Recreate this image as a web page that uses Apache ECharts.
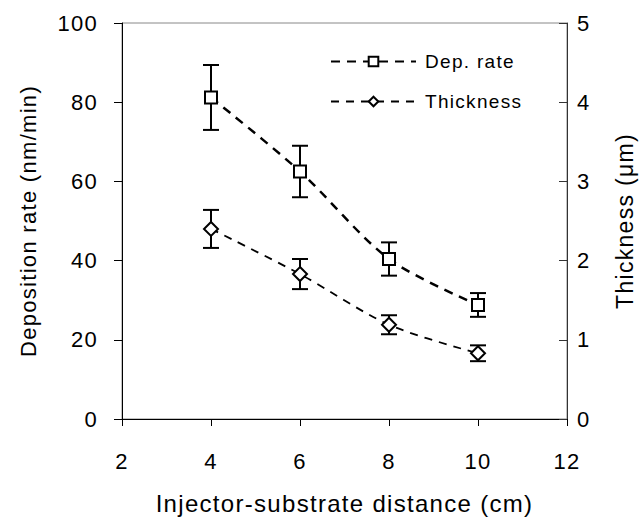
<!DOCTYPE html>
<html>
<head>
<meta charset="utf-8">
<script src="https://cdn.jsdelivr.net/npm/echarts@6/dist/echarts.min.js"></script>
<style>
html,body{margin:0;padding:0;background:#fff;overflow:hidden;}
#c{width:642px;height:528px;}
#c text{letter-spacing:1.3px;}
</style>
</head>
<body>
<div id="c"></div>
<script>
const distances = [4, 6, 8, 10];
const depRate = [81.2, 62.5, 40.4, 28.8];
const depRateErr = [8.2, 6.5, 4.2, 3.0];
const thickness = [2.40, 1.83, 1.19, 0.83];
const thicknessErr = [0.24, 0.19, 0.12, 0.10];
const xTicks = [2, 4, 6, 8, 10, 12];
const yLeftTicks = [0, 20, 40, 60, 80, 100];
const yRightTicks = [0, 1, 2, 3, 4, 5];

const FONT = 'Liberation Sans, Arial, sans-serif';
const chart = echarts.init(document.getElementById('c'), null, {renderer: 'svg'});

function errSeries(vals, errs, yIdx) {
  return {
    type: 'custom',
    yAxisIndex: yIdx,
    z: 1,
    silent: true,
    data: distances.map((d, i) => [d, vals[i] - errs[i], vals[i] + errs[i]]),
    renderItem: function (params, api) {
      const lo = api.coord([api.value(0), api.value(1)]);
      const hi = api.coord([api.value(0), api.value(2)]);
      const w = 8;
      const st = {stroke: '#000', lineWidth: 2};
      return {
        type: 'group',
        children: [
          {type: 'line', shape: {x1: lo[0], y1: lo[1], x2: hi[0], y2: hi[1]}, style: st},
          {type: 'line', shape: {x1: lo[0] - w, y1: lo[1], x2: lo[0] + w, y2: lo[1]}, style: st},
          {type: 'line', shape: {x1: hi[0] - w, y1: hi[1], x2: hi[0] + w, y2: hi[1]}, style: st}
        ]
      };
    }
  };
}

const option = {
  backgroundColor: '#fff',
  animation: false,
  textStyle: {fontFamily: FONT},
  grid: {left: 122, right: 75, top: 23, bottom: 109, outerBoundsMode: 'none', containLabel: false,
    show: true, borderColor: '#888', borderWidth: 1, backgroundColor: 'transparent'},
  legend: {
    orient: 'vertical',
    left: 330,
    top: 52,
    padding: 0,
    itemWidth: 85,
    itemHeight: 12,
    itemGap: 21,
    textStyle: {fontFamily: FONT, fontSize: 19, color: '#000', padding: [0, 0, 0, 4]},
    data: ['Dep. rate', 'Thickness']
  },
  xAxis: {
    type: 'value', min: 2, max: 12, interval: 2,
    name: 'Injector-substrate distance (cm)',
    nameLocation: 'middle', nameGap: 72,
    nameTextStyle: {fontFamily: FONT, fontSize: 24, color: '#000'},
    axisLine: {lineStyle: {color: '#000', width: 1}},
    axisTick: {show: true, length: 7, lineStyle: {color: '#000'}},
    axisLabel: {margin: 31, fontFamily: FONT, fontSize: 22, color: '#000',
      formatter: v => xTicks.includes(v) ? String(v) : ''},
    splitLine: {show: false}
  },
  yAxis: [
    {
      type: 'value', min: 0, max: 100, interval: 20, position: 'left',
      name: 'Deposition rate (nm/min)', nameLocation: 'middle', nameGap: 83, nameRotate: 90,
      nameTextStyle: {fontFamily: FONT, fontSize: 22, color: '#000'},
      axisLine: {show: true, lineStyle: {color: '#000', width: 1}},
      axisTick: {show: true, length: 8, lineStyle: {color: '#000'}},
      axisLabel: {margin: 24, fontFamily: FONT, fontSize: 22, color: '#000',
        formatter: v => yLeftTicks.includes(v) ? String(v) : ''},
      splitLine: {show: false}
    },
    {
      type: 'value', min: 0, max: 5, interval: 1, position: 'right',
      name: 'Thickness (\u03bcm)', nameLocation: 'middle', nameGap: 46, nameRotate: 90,
      nameTextStyle: {fontFamily: FONT, fontSize: 23, color: '#000'},
      axisLine: {show: true, lineStyle: {color: '#333', width: 1}},
      axisTick: {show: true, inside: true, length: 8, lineStyle: {color: '#333'}},
      axisLabel: {margin: 10, fontFamily: FONT, fontSize: 22, color: '#000',
        formatter: v => yRightTicks.includes(v) ? String(v) : ''},
      splitLine: {show: false}
    }
  ],
  series: [
    errSeries(depRate, depRateErr, 0),
    errSeries(thickness, thicknessErr, 1),
    {
      name: 'Dep. rate', type: 'line', yAxisIndex: 0, z: 3,
      data: distances.map((d, i) => [d, depRate[i]]),
      smooth: 0.3,
      symbol: 'rect', symbolSize: 12,
      itemStyle: {color: '#fff', borderColor: '#000', borderWidth: 2},
      lineStyle: {color: '#000', width: 2.5, type: [9, 7]}
    },
    {
      name: 'Thickness', type: 'line', yAxisIndex: 1, z: 3,
      data: distances.map((d, i) => [d, thickness[i]]),
      smooth: 0.3,
      symbol: 'diamond', symbolSize: 14,
      itemStyle: {color: '#fff', borderColor: '#000', borderWidth: 2},
      lineStyle: {color: '#000', width: 1.8, type: [8, 7]}
    }
  ]
};
chart.setOption(option);
</script>
</body>
</html>
